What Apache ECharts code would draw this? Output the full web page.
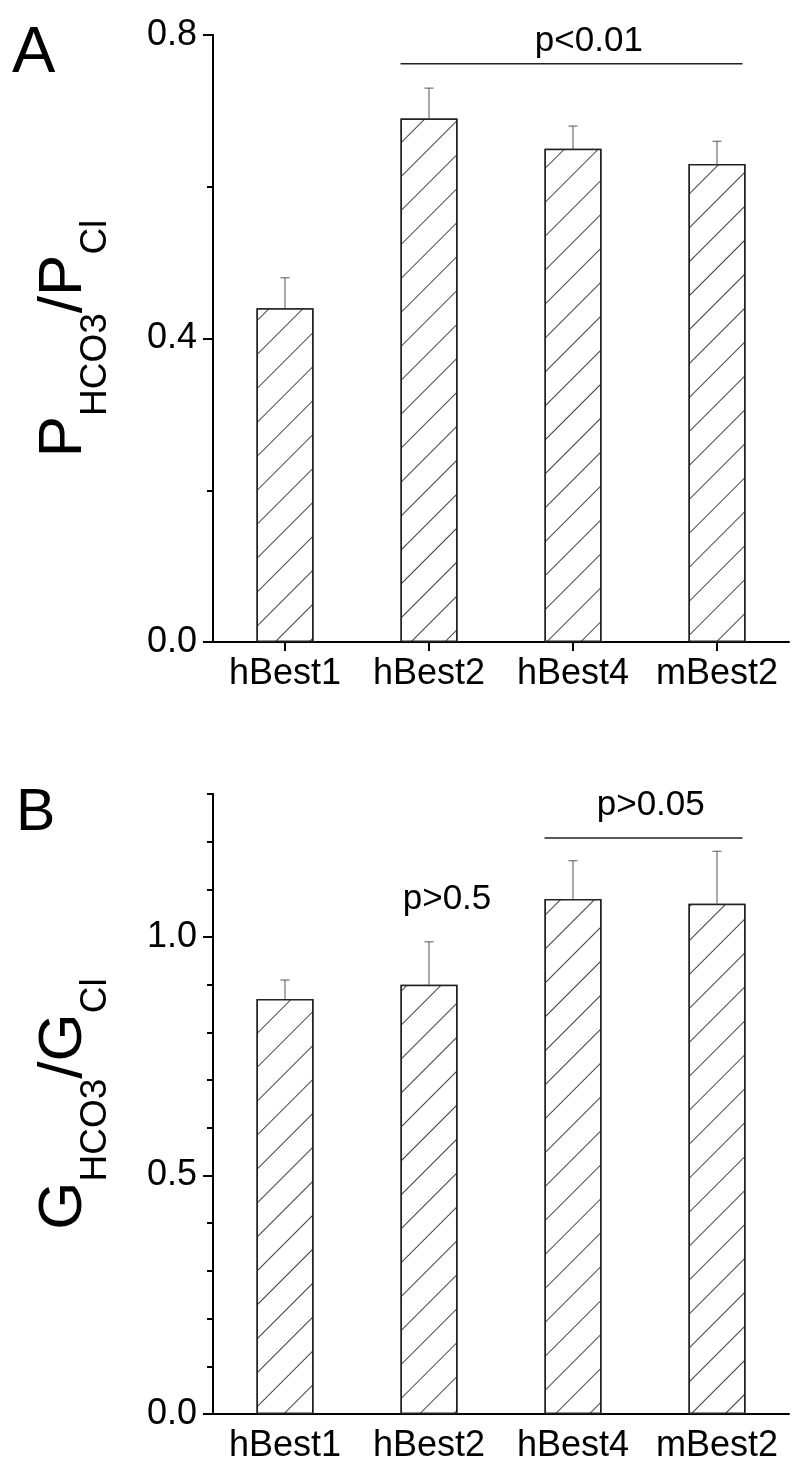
<!DOCTYPE html>
<html>
<head>
<meta charset="utf-8">
<script src="https://cdn.jsdelivr.net/npm/echarts@6/dist/echarts.min.js"></script>
<style>
  html, body { margin: 0; padding: 0; background: #fff; }
  #chart { width: 800px; height: 1474px; }
</style>
</head>
<body>
<div id="chart"></div>
<script>
// ---------- data ----------
const categories = ['hBest1', 'hBest2', 'hBest4', 'mBest2'];
// Panel A: P_HCO3 / P_Cl
const permRatio = [0.44, 0.69, 0.65, 0.63];
const permErr = [0.04, 0.04, 0.03, 0.03];
const permTickValues = [0, 0.4, 0.8];
const permMinorTicks = [0.2, 0.6];
// Panel B: G_HCO3 / G_Cl
const condRatio = [0.87, 0.90, 1.08, 1.07];
const condErr = [0.04, 0.09, 0.08, 0.11];
const condTickValues = [0, 0.5, 1.0];
const condMinorTicks = [0.1, 0.2, 0.3, 0.4, 0.6, 0.7, 0.8, 0.9, 1.1, 1.2, 1.3];
// significance lines: [fromIndex, toIndex, lineY]
const sigLinesA = [[1, 3, 0.762]];
const sigLinesB = [[2, 3, 1.208]];
// text annotations: [categoryPosition, y, label]
const sigTextA = [[2.11, 0.792, 'p<0.01']];
const sigTextB = [[2.54, 1.277, 'p>0.05'], [1.125, 1.08, 'p>0.5']];

// ---------- helpers ----------
const FONT = '"Liberation Sans", Arial, Helvetica, sans-serif';
const BAR_W = 57;

function errorRender(params, api) {
  const x = api.coord([api.value(0), api.value(1)]);
  const top = api.coord([api.value(0), api.value(1) + api.value(2)]);
  return {
    type: 'group',
    children: [
      { type: 'line', shape: { x1: x[0], y1: x[1], x2: top[0], y2: top[1] },
        style: { stroke: '#555', lineWidth: 1 } },
      { type: 'line', shape: { x1: top[0] - 4.5, y1: top[1], x2: top[0] + 4.5, y2: top[1] },
        style: { stroke: '#555', lineWidth: 1 } }
    ]
  };
}
function sigLineRender(params, api) {
  const a = api.coord([api.value(0), api.value(2)]);
  const b = api.coord([api.value(1), api.value(2)]);
  return {
    type: 'line',
    shape: { x1: a[0] - BAR_W / 2, y1: a[1], x2: b[0] + BAR_W / 2 - 3, y2: b[1] },
    style: { stroke: '#222', lineWidth: 1.5 }
  };
}
function makeTextRender(list) {
  return function (params, api) {
    const item = list[params.dataIndex];
    const base = Math.floor(item[0]);
    const p = api.coord([base, item[1]]);
    const band = api.size([1, 0])[0];
    return {
      type: 'text',
      x: p[0] + (item[0] - base) * band,
      y: p[1],
      style: { text: item[2], fontSize: 35, fontFamily: FONT, fill: '#000',
               align: 'center', verticalAlign: 'middle' }
    };
  };
}

function panelSeries(gridIdx, values, errs, sigLines, sigText) {
  return [
    {
      type: 'bar', xAxisIndex: gridIdx, yAxisIndex: gridIdx * 2,
      data: values, barWidth: BAR_W, silent: true,
      itemStyle: {
        color: '#fff', borderColor: '#222', borderWidth: 1.5,
        decal: {
          symbol: 'rect', symbolSize: 1,
          dashArrayX: [1, 0], dashArrayY: [1, 22.7],
          rotation: -Math.PI / 4,
          color: '#444', backgroundColor: '#fff'
        }
      }
    },
    {
      type: 'custom', xAxisIndex: gridIdx, yAxisIndex: gridIdx * 2,
      data: values.map((v, i) => [i, v, errs[i]]),
      renderItem: errorRender, silent: true, z: 1
    },
    {
      type: 'custom', xAxisIndex: gridIdx, yAxisIndex: gridIdx * 2,
      data: sigLines, renderItem: sigLineRender, clip: false, silent: true
    },
    {
      type: 'custom', xAxisIndex: gridIdx, yAxisIndex: gridIdx * 2,
      data: sigText.map(t => [t[0], t[1]]), renderItem: makeTextRender(sigText),
      clip: false, silent: true
    }
  ];
}

function yAxes(gridIdx, max, interval, majors, minors, name) {
  const common = {
    type: 'value', gridIndex: gridIdx, min: 0, max: max, position: 'left',
    splitLine: { show: false },
    axisLine: { show: true, lineStyle: { color: '#000', width: 2 } }
  };
  return [
    Object.assign({}, common, {
      interval: interval,
      axisTick: { show: true, inside: false, length: 10, lineStyle: { color: '#000', width: 2 },
                  customValues: majors },
      axisLabel: {
        show: true, margin: 16,
        fontSize: 36, fontFamily: FONT, color: '#000',
        formatter: v => (majors.some(m => Math.abs(m - v) < 1e-9) ? v.toFixed(1) : '')
      },
      name: name,
      nameLocation: 'middle', nameRotate: 90, nameGap: 118,
      nameTextStyle: {
        fontFamily: FONT, color: '#000',
        rich: {
          b: { fontSize: 62, fontFamily: FONT, color: '#000', verticalAlign: 'bottom' },
          s: { fontSize: 37, fontFamily: FONT, color: '#000', verticalAlign: 'bottom',
               padding: [0, 0, -19, 0] }
        }
      }
    }),
    Object.assign({}, common, {
      axisTick: { show: true, inside: false, length: 6, lineStyle: { color: '#000', width: 2 },
                  customValues: minors },
      axisLabel: { show: false }
    })
  ];
}

const xAxisCommon = {
  type: 'category', data: categories,
  axisLine: { show: true, lineStyle: { color: '#000', width: 2 } },
  axisLabel: { interval: 0, fontSize: 36, fontFamily: FONT, color: '#000', margin: 14 },
  splitLine: { show: false }
};

const option = {
  animation: false,
  backgroundColor: '#fff',
  graphic: [
    { type: 'text', left: 12, top: 22, style: { text: 'A', fontSize: 65, fontFamily: FONT, fill: '#000' } },
    { type: 'text', left: 16, top: 784, style: { text: 'B', fontSize: 59, fontFamily: FONT, fill: '#000' } }
  ],
  grid: [
    { left: 213, top: 35, width: 576, height: 607 },
    { left: 213, top: 794, width: 576, height: 620 }
  ],
  xAxis: [
    Object.assign({}, xAxisCommon, { gridIndex: 0,
      axisTick: { show: true, alignWithLabel: true, length: 9, lineStyle: { color: '#000', width: 2 } } }),
    Object.assign({}, xAxisCommon, { gridIndex: 1, axisTick: { show: false } })
  ],
  yAxis: [
    ...yAxes(0, 0.8, 0.4, permTickValues, permMinorTicks, '{b|P}{s|HCO3}{b|/P}{s|Cl}'),
    ...yAxes(1, 1.3, 0.5, condTickValues, condMinorTicks, '{b|G}{s|HCO3}{b|/G}{s|Cl}')
  ],
  series: [
    ...panelSeries(0, permRatio, permErr, sigLinesA, sigTextA),
    ...panelSeries(1, condRatio, condErr, sigLinesB, sigTextB)
  ]
};

const chart = echarts.init(document.getElementById('chart'), null, { renderer: 'canvas' });
chart.setOption(option);
</script>
</body>
</html>
